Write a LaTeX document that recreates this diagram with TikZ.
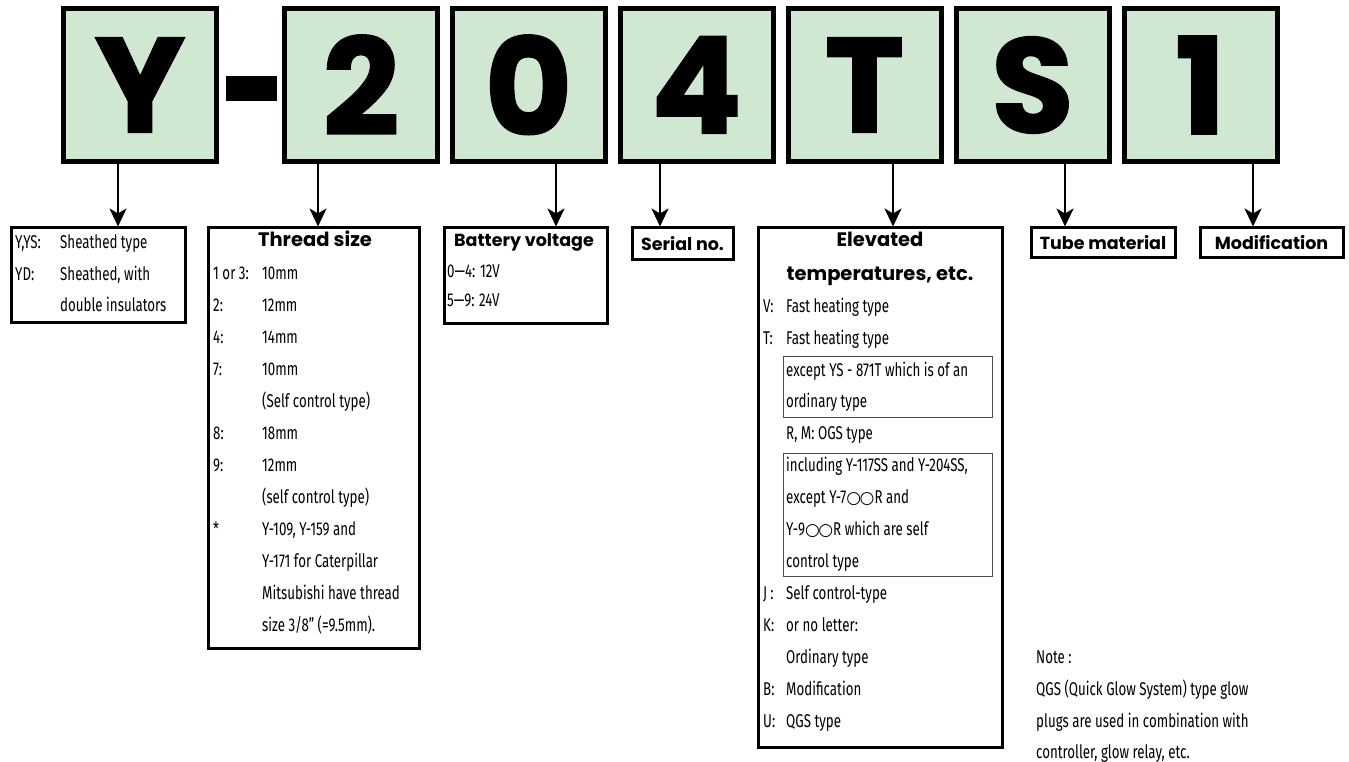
\documentclass[tikz,border=0pt]{standalone}
\usepackage{fontspec}
\setmainfont{Fira Sans}[FakeStretch=0.72]
\newfontfamily\headf{Poppins}
\newfontfamily\bigf{Poppins}[BoldFeatures={FakeBold=1.5}]
\newfontfamily\symf{DejaVu Sans}
\usetikzlibrary{arrows.meta}
\definecolor{boxgreen}{RGB}{208,232,210}
\newcommand\circs{{\symf\fontsize{17}{17}\selectfont ○\kern-1.5pt○}}
\tikzset{
  big/.style={draw=black, line width=5pt, fill=boxgreen, minimum width=153pt, minimum height=153pt, inner sep=0pt, font=\bigf\bfseries\fontsize{134}{134}\selectfont},
  lbox/.style={draw=black, line width=3pt, inner sep=0pt, anchor=north west},
  ibox/.style={draw=black!70, line width=1pt, inner sep=0pt, anchor=north west},
  txt/.style={anchor=base west, inner sep=0pt, font=\fontsize{18.5}{20}\selectfont},
  hd/.style={anchor=base, inner sep=0pt, font=\headf\bfseries\fontsize{17.5}{20}\selectfont},
  hdl/.style={anchor=base, inner sep=0pt, font=\headf\bfseries\fontsize{19.5}{22}\selectfont},
  hdbox/.style={lbox, font=\headf\bfseries\fontsize{17.5}{20}\selectfont},
  arr/.style={line width=2.5pt, -{Stealth[length=18pt,width=17pt,inset=5pt]}}
}
\newcommand\mytxt[4]{\node[txt] (#1) at (#2,#3) {#4};}
\begin{document}
\begin{tikzpicture}[x=1pt,y=-1pt]
\fill[white] (0,0) rectangle (1349,762);
\useasboundingbox (0,0) rectangle (1349,762);
% top code boxes
\node[big] (tY) at (140,85) {Y};
\node[fill=black, minimum width=51pt, minimum height=25pt, inner sep=0pt] (dash) at (251.5,88.5) {};
\node[big] (t2) at (361,85) {2};
\node[big] (t0) at (528.5,85) {0};
\node[big] (t4) at (696.5,85) {4};
\node[big] (tT) at (864.5,85) {T};
\node[big] (tS) at (1032.5,85) {S};
\node[big] (t1) at (1200.5,85) {1};
% lower boxes
\node[lbox, minimum width=174pt, minimum height=94pt] (yys) at (9.5,226.5) {};
\node[lbox, minimum width=211pt, minimum height=420pt] (thr) at (206.5,226.5) {};
\node[lbox, minimum width=163pt, minimum height=95pt] (bat) at (442.5,226.5) {};
\node[hdbox, minimum width=101pt, minimum height=31pt] (ser) at (630.5,226.5) {Serial no.};
\node[lbox, minimum width=244pt, minimum height=519pt] (elev) at (756.5,226.5) {};
\node[hdbox, minimum width=144pt, minimum height=29pt] (tube) at (1029.5,226.5) {Tube material};
\node[hdbox, minimum width=143pt, minimum height=29pt] (modf) at (1198.5,226.5) {Modification};
\node[ibox, minimum width=209pt, minimum height=61pt] (in1) at (782.5,355.5) {};
\node[ibox, minimum width=209pt, minimum height=123pt] (in2) at (782.5,452.5) {};
% arrows
\draw[arr] ([xshift=-22pt]tY.south) -- ([xshift=-22pt]tY.south |- yys.north);
\draw[arr] ([xshift=-43pt]t2.south) -- ([xshift=-43pt]t2.south |- thr.north);
\draw[arr] ([xshift=27.5pt]t0.south) -- ([xshift=27.5pt]t0.south |- bat.north);
\draw[arr] ([xshift=-36.5pt]t4.south) -- ([xshift=-36.5pt]t4.south |- ser.north);
\draw[arr] ([xshift=28.5pt]tT.south) -- ([xshift=28.5pt]tT.south |- elev.north);
\draw[arr] ([xshift=32.5pt]tS.south) -- ([xshift=32.5pt]tS.south |- tube.north);
\draw[arr] ([xshift=52.5pt]t1.south) -- ([xshift=52.5pt]t1.south |- modf.north);
% Y texts
\mytxt{ya1}{15}{248}{Y,YS:}
\mytxt{yb1}{60}{248}{Sheathed type}
\mytxt{ya2}{15}{280}{YD:}
\mytxt{yb2}{60}{280}{Sheathed, with}
\mytxt{yb3}{60}{311}{double insulators}
% thread size
\node[hdl] (thh) at (315,247) {Thread size};
\mytxt{tha1}{213}{279}{1 or 3:}
\mytxt{thb1}{262}{279}{10mm}
\mytxt{tha2}{213}{311}{2:}
\mytxt{thb2}{262}{311}{12mm}
\mytxt{tha3}{213}{343}{4:}
\mytxt{thb3}{262}{343}{14mm}
\mytxt{tha4}{213}{375}{7:}
\mytxt{thb4}{262}{375}{10mm}
\mytxt{thb5}{262}{407}{(Self control type)}
\mytxt{tha6}{213}{439}{8:}
\mytxt{thb6}{262}{439}{18mm}
\mytxt{tha7}{213}{471}{9:}
\mytxt{thb7}{262}{471}{12mm}
\mytxt{thb8}{262}{503}{(self control type)}
\mytxt{tha9}{213}{535}{*}
\mytxt{thb9}{262}{535}{Y-109, Y-159 and}
\mytxt{thb10}{262}{567}{Y-171 for Caterpillar}
\mytxt{thb11}{262}{599}{Mitsubishi have thread}
\mytxt{thb12}{262}{631}{size 3/8" (=9.5mm).}
% battery
\node[hd] (bath) at (524,247) {Battery voltage};
\mytxt{bat1}{447}{277}{0—4: 12V}
\mytxt{bat2}{447}{306}{5—9: 24V}
% elevated
\node[hdl] (elh1) at (880,247) {Elevated};
\node[hdl] (elh2) at (880,280) {temperatures, etc.};
\mytxt{ela1}{763}{312}{V:}
\mytxt{elb1}{786}{312}{Fast heating type}
\mytxt{ela2}{763}{344}{T:}
\mytxt{elb2}{786}{344}{Fast heating type}
\mytxt{elb3}{786}{376}{except YS - 871T which is of an}
\mytxt{elb4}{786}{407}{ordinary type}
\mytxt{elb5}{786}{439}{R, M: OGS type}
\mytxt{elb6}{786}{471}{including Y-117SS and Y-204SS,}
\mytxt{elb7}{786}{503}{except Y-7\circs R and}
\mytxt{elb8}{786}{535}{Y-9\circs R which are self}
\mytxt{elb9}{786}{567}{control type}
\mytxt{ela10}{763}{599}{J\,:}
\mytxt{elb10}{786}{599}{Self control-type}
\mytxt{ela11}{763}{631}{K:}
\mytxt{elb11}{786}{631}{or no letter:}
\mytxt{elb12}{786}{663}{Ordinary type}
\mytxt{ela13}{763}{695}{B:}
\mytxt{elb13}{786}{695}{Modification}
\mytxt{ela14}{763}{727}{U:}
\mytxt{elb14}{786}{727}{QGS type}
% note
\mytxt{n1}{1036}{663}{Note :}
\mytxt{n2}{1036}{695}{QGS (Quick Glow System) type glow}
\mytxt{n3}{1036}{727}{plugs are used in combination with}
\mytxt{n4}{1036}{758}{controller, glow relay, etc.}
\end{tikzpicture}
\end{document}
